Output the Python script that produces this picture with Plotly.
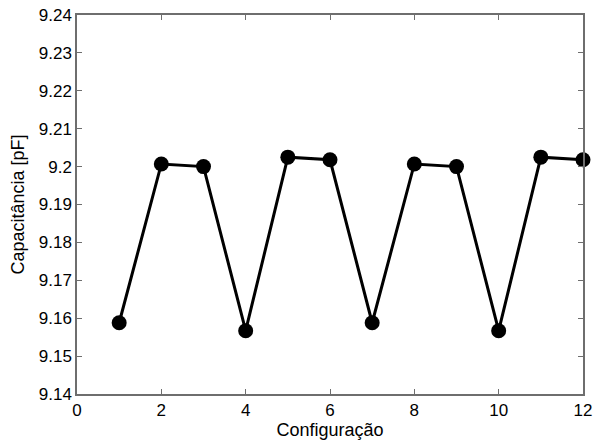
import plotly.graph_objects as go

# Capacitance measured for each configuration
configuracao = [1, 2, 3, 4, 5, 6, 7, 8, 9, 10, 11, 12]
capacitancia_pf = [9.1588, 9.2007, 9.2000, 9.1567, 9.2025, 9.2018,
                   9.1588, 9.2007, 9.2000, 9.1567, 9.2025, 9.2018]

x_ticks = [0, 2, 4, 6, 8, 10, 12]
y_ticks = [9.14, 9.15, 9.16, 9.17, 9.18, 9.19, 9.20, 9.21, 9.22, 9.23, 9.24]
y_labels = ["9.14", "9.15", "9.16", "9.17", "9.18", "9.19", "9.2",
            "9.21", "9.22", "9.23", "9.24"]

fig = go.Figure()
fig.add_trace(go.Scatter(
    x=configuracao, y=capacitancia_pf,
    mode="lines+markers",
    line=dict(color="black", width=3),
    marker=dict(color="black", size=15),
    cliponaxis=False,
    showlegend=False,
))

font = "Liberation Sans, Arial"
axis_common = dict(
    showline=True, mirror="ticks", linecolor="#6e6e6e", linewidth=1.5,
    ticks="inside", ticklen=5, tickcolor="#6e6e6e", tickwidth=1,
    showgrid=False, zeroline=False, automargin=False,
    tickfont=dict(family=font, size=17, color="black"),
    title_font=dict(family=font, size=18, color="black"),
)

fig.update_xaxes(range=[0, 12], tickvals=x_ticks, title_text="Configuração",
                 title_standoff=2, **axis_common)
fig.update_yaxes(range=[9.14, 9.24], tickvals=y_ticks, ticktext=y_labels,
                 title_text="Capacitância [pF]", title_standoff=9, **axis_common)

fig.update_layout(
    width=595, height=443,
    margin=dict(l=77, r=12, t=15, b=49),
    plot_bgcolor="white", paper_bgcolor="white",
)

fig.write_html("out.html")
